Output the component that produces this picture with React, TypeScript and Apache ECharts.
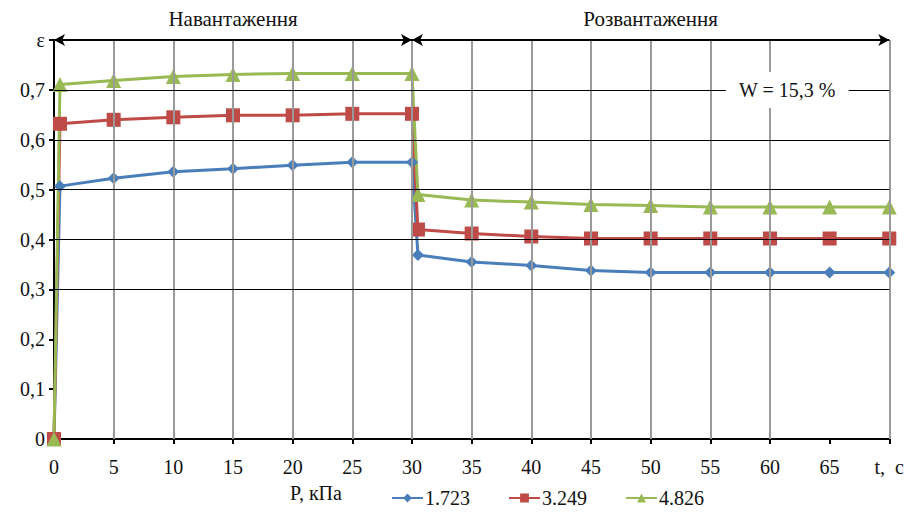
import React, { useEffect, useRef } from "react";
import * as echarts from "echarts";

const times = [0, 0.5, 5, 10, 15, 20, 25, 30, 30.5, 35, 40, 45, 50, 55, 60, 65, 70];
const p1723 = [0, 0.507, 0.523, 0.536, 0.542, 0.549, 0.555, 0.555, 0.369, 0.355, 0.348, 0.338, 0.334, 0.334, 0.334, 0.334, 0.334];
const p3249 = [0, 0.632, 0.640, 0.645, 0.649, 0.649, 0.652, 0.652, 0.420, 0.412, 0.406, 0.402, 0.402, 0.402, 0.402, 0.402, 0.402];
const p4826 = [0, 0.711, 0.719, 0.727, 0.731, 0.733, 0.733, 0.733, 0.490, 0.479, 0.475, 0.470, 0.468, 0.465, 0.465, 0.465, 0.465];
const seriesNames = ["1.723", "3.249", "4.826"];
const vGrid = [5, 10, 15, 20, 25, 30, 35, 40, 45, 50, 55, 60, 70];
const hGrid = [0.3, 0.4, 0.5, 0.6, 0.7];
const phases = [
  { name: "Навантаження", from: 0, to: 30 },
  { name: "Розвантаження", from: 30, to: 70 },
];
const moisture = "W = 15,3 %";
const legendTitle = "P, кПа";

const FONT = "Liberation Serif";
const FS = 20;

export default function App() {
  const ref = useRef<HTMLDivElement>(null);
  useEffect(() => {
    if (!ref.current) return;
    const chart = echarts.init(ref.current, null, { renderer: "svg" });
    const mk = (vals: number[]) => times.map((t, i) => [t, vals[i]]);
    chart.setOption({
      animation: false,
      textStyle: { fontFamily: FONT, fontSize: FS },
      grid: { left: 54, right: 14, top: 40, bottom: 76 },
      xAxis: {
        type: "value",
        min: 0,
        max: 70,
        interval: 5,
        axisLine: { show: true, lineStyle: { color: "#000", width: 2 } },
        axisTick: { show: true, length: 5, lineStyle: { color: "#000", width: 2 } },
        splitLine: { show: false },
        axisLabel: {
          color: "#111",
          fontSize: FS,
          fontFamily: FONT,
          margin: 18,
          formatter: (v: number) => (v === 70 ? "t,  c" : String(v)),
        },
      },
      yAxis: {
        type: "value",
        min: 0,
        max: 0.8,
        interval: 0.1,
        axisLine: { show: true, lineStyle: { color: "#000", width: 2 } },
        axisTick: { show: true, length: 5, lineStyle: { color: "#000", width: 2 } },
        splitLine: { show: false },
        axisLabel: {
          color: "#111",
          fontSize: FS,
          fontFamily: FONT,
          margin: 9,
          formatter: (v: number) => {
            const r = Math.round(v * 10) / 10;
            if (r === 0.8) return "ε";
            if (r === 0) return "0";
            return r.toFixed(1).replace(".", ",");
          },
        },
      },
      legend: {
        data: seriesNames,
        left: 386,
        top: 483,
        itemWidth: 31,
        itemHeight: 11,
        itemGap: 38,
        textStyle: { fontSize: FS, color: "#111", fontFamily: FONT, padding: [0, 0, 0, -3] },
      },
      graphic: [
        {
          type: "text",
          left: 290,
          top: 483,
          style: { text: legendTitle, fontSize: FS, fill: "#111", fontFamily: FONT },
        },
      ],
      series: [
        {
          name: "grid",
          type: "line",
          data: [],
          silent: true,
          z: 1,
          markLine: {
            silent: true,
            symbol: ["none", "none"],
            label: { show: false },
            data: [
              ...vGrid.map((x) => ({ xAxis: x, lineStyle: { color: "#9a9a9a", width: 2, type: "solid" } })),
              ...hGrid.map((y) => ({ yAxis: y, lineStyle: { color: "#000", width: 1, type: "solid" } })),
            ],
          },
        },
        {
          name: "phases",
          type: "line",
          data: [],
          silent: true,
          z: 5,
          markLine: {
            silent: true,
            symbol: ["arrow", "arrow"],
            symbolSize: [9, 11],
            lineStyle: { color: "#000", width: 2, type: "solid" },
            label: {
              show: true,
              position: "middle",
              distance: 11,
              fontSize: 21,
              color: "#111",
              fontFamily: FONT,
            },
            data: phases.map((p) => [
              { coord: [p.from, 0.8], name: p.name, label: { formatter: p.name } },
              { coord: [p.to, 0.8] },
            ]),
          },
          markPoint: {
            silent: true,
            symbol: "rect",
            symbolSize: 0,
            label: {
              show: true,
              formatter: moisture,
              position: "inside",
              fontSize: FS,
              color: "#111",
              fontFamily: FONT,
              backgroundColor: "#fff",
              padding: [8, 13],
            },
            data: [{ coord: [61.45, 0.7] }],
          },
        },
        {
          name: seriesNames[0],
          type: "line",
          data: mk(p1723),
          color: "#4a7ebb",
          symbol: "diamond",
          symbolSize: 12,
          lineStyle: { width: 3 },
          z: 3,
        },
        {
          name: seriesNames[1],
          type: "line",
          data: mk(p3249),
          color: "#be4b48",
          symbol: "rect",
          symbolSize: 14,
          lineStyle: { width: 3 },
          z: 3,
        },
        {
          name: seriesNames[2],
          type: "line",
          data: mk(p4826),
          color: "#98b954",
          symbol: "triangle",
          symbolSize: 15,
          lineStyle: { width: 3 },
          z: 3,
        },
      ],
    });
    return () => chart.dispose();
  }, []);
  return (
    <div
      ref={ref}
      style={{ position: "fixed", left: 0, top: 0, width: 907, height: 515, background: "#fff" }}
    />
  );
}
